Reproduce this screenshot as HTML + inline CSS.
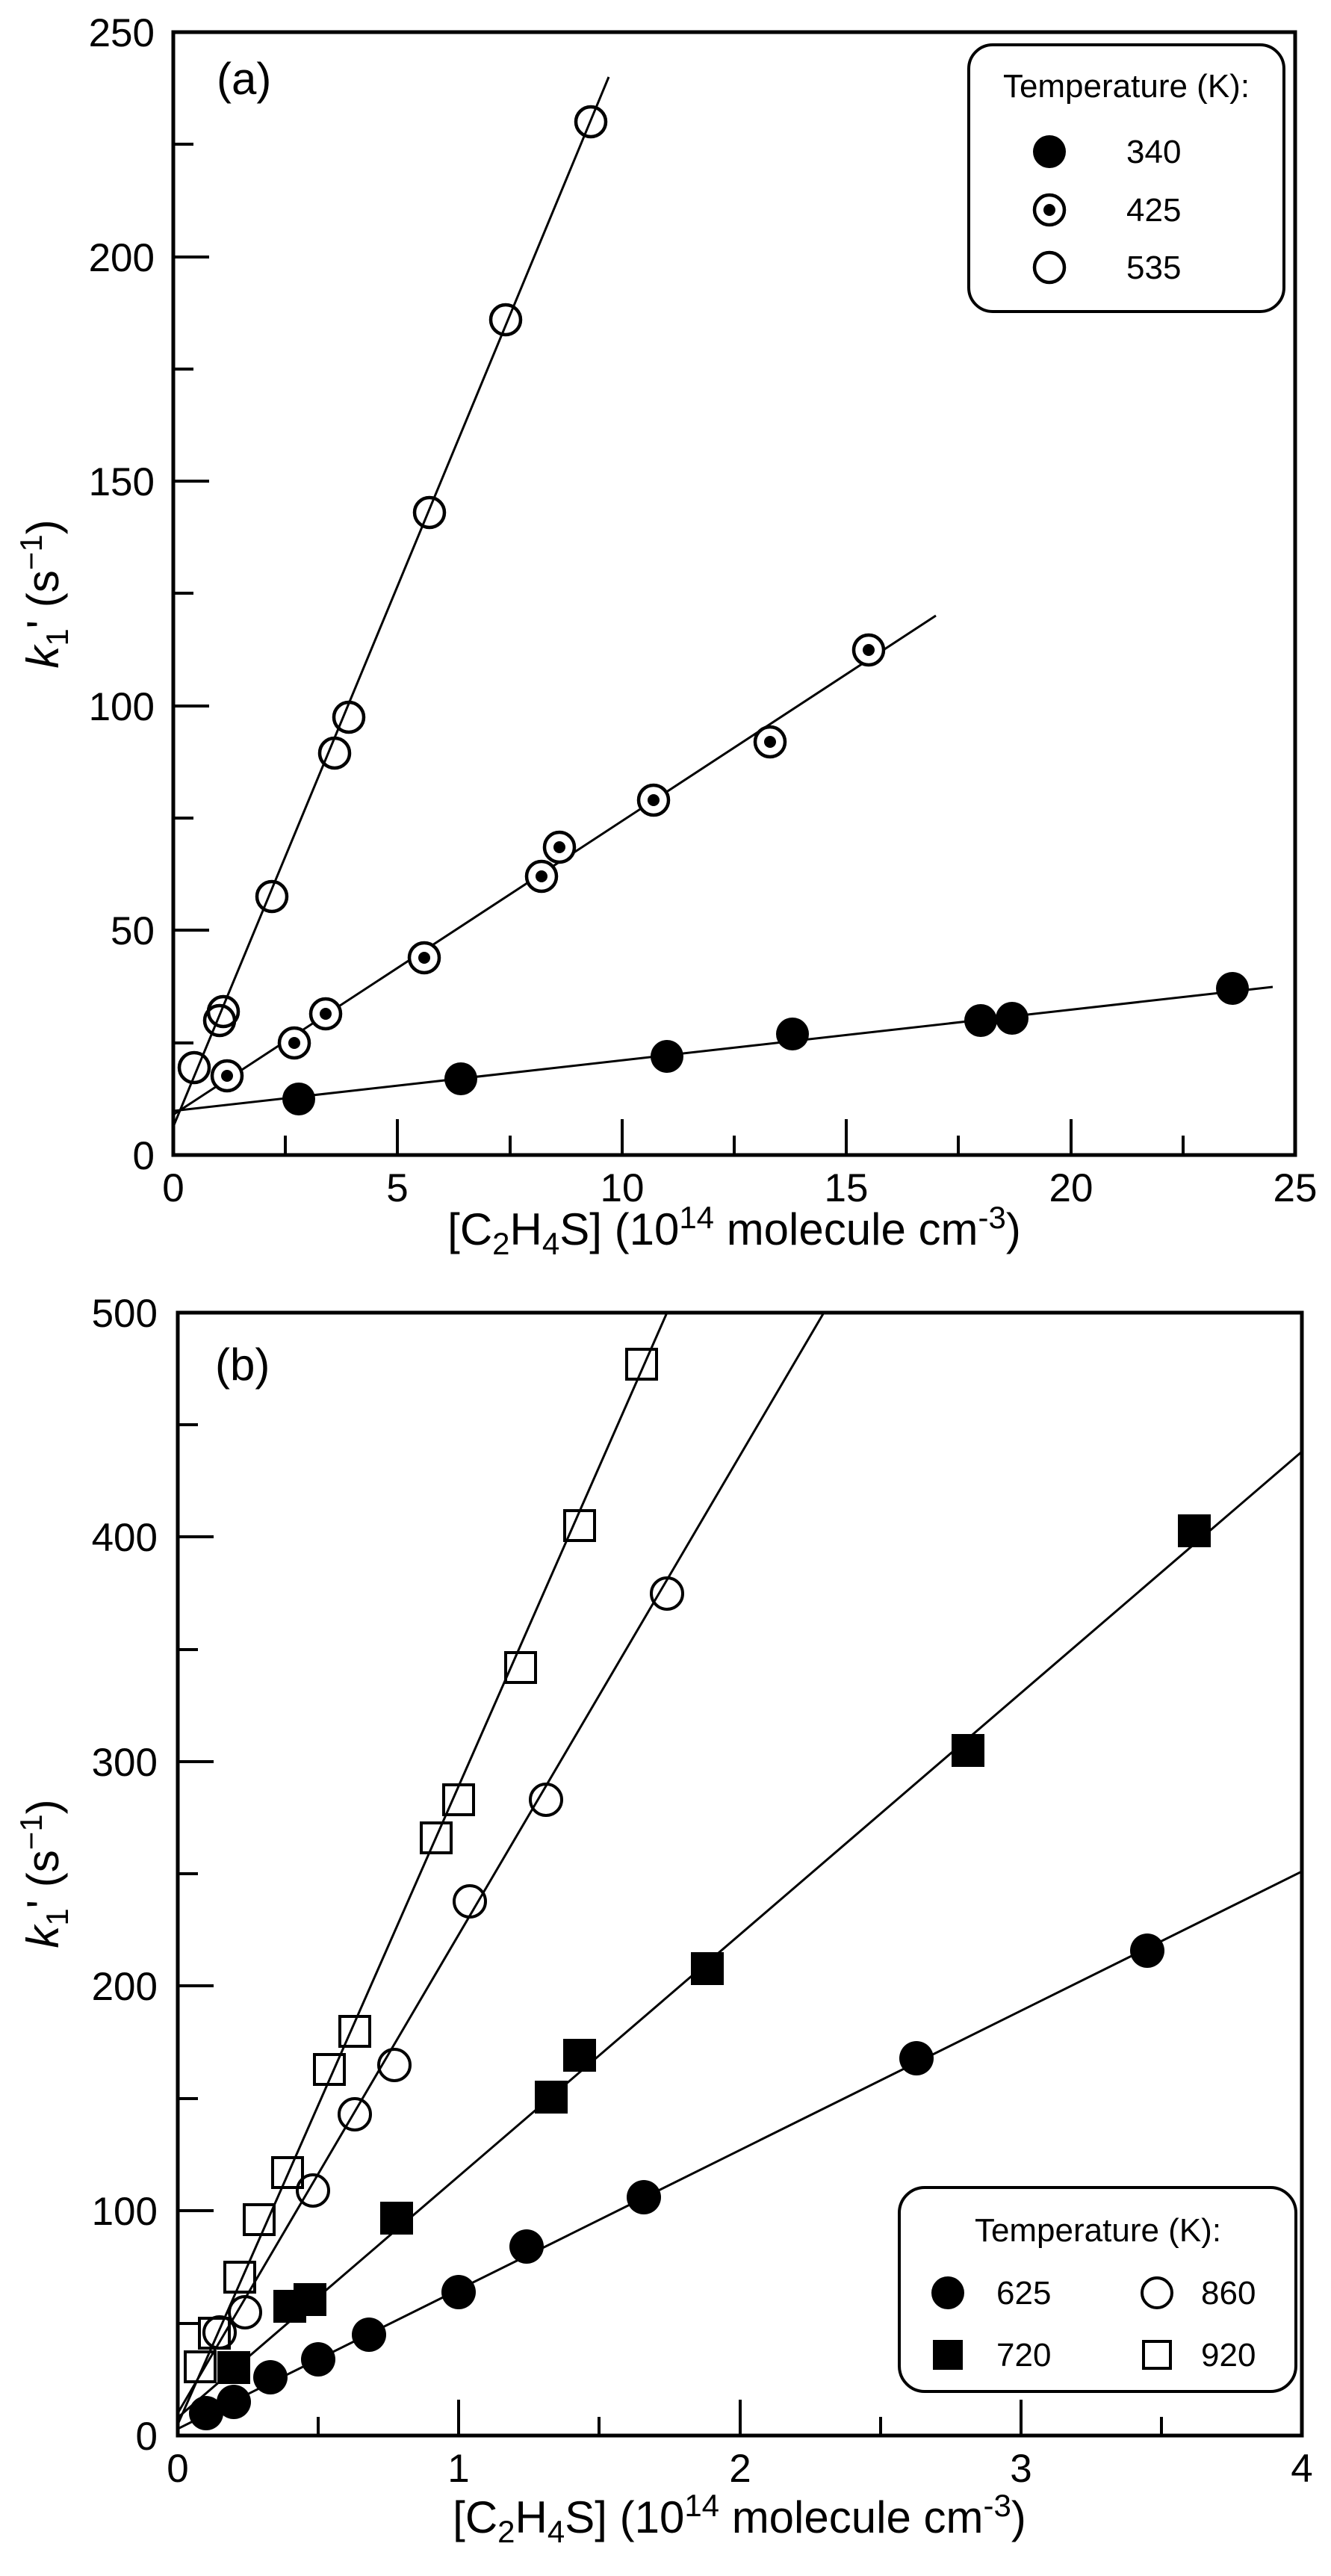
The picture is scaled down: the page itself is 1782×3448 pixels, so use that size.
<!DOCTYPE html>
<html><head><meta charset="utf-8"><style>
html,body{margin:0;padding:0;background:#fff;}
svg{display:block;}
text{font-family:"Liberation Sans",Arial,sans-serif;fill:#000;}
</style></head><body>
<svg xmlns="http://www.w3.org/2000/svg" width="1782" height="3448" viewBox="0 0 1782 3448">
<defs>
<clipPath id="ca"><rect x="232" y="43" width="1502" height="1503"/></clipPath>
<clipPath id="cb"><rect x="238" y="1757" width="1505" height="1503"/></clipPath>
</defs>
<rect width="1782" height="3448" fill="#fff"/>

<!-- ============ PANEL A ============ -->
<g stroke="#000" stroke-width="5" fill="none">
<rect x="232" y="43" width="1502" height="1503"/>
</g>
<g stroke="#000" stroke-width="4">
<line x1="232" y1="1546" x2="232" y2="1498"/>
<line x1="382" y1="1546" x2="382" y2="1520"/>
<line x1="532" y1="1546" x2="532" y2="1498"/>
<line x1="683" y1="1546" x2="683" y2="1520"/>
<line x1="833" y1="1546" x2="833" y2="1498"/>
<line x1="983" y1="1546" x2="983" y2="1520"/>
<line x1="1133" y1="1546" x2="1133" y2="1498"/>
<line x1="1283" y1="1546" x2="1283" y2="1520"/>
<line x1="1434" y1="1546" x2="1434" y2="1498"/>
<line x1="1584" y1="1546" x2="1584" y2="1520"/>
<line x1="232" y1="1245" x2="280" y2="1245"/>
<line x1="232" y1="1396" x2="259" y2="1396"/>
<line x1="232" y1="1095" x2="259" y2="1095"/>
<line x1="232" y1="945" x2="280" y2="945"/>
<line x1="232" y1="794" x2="259" y2="794"/>
<line x1="232" y1="644" x2="280" y2="644"/>
<line x1="232" y1="494" x2="259" y2="494"/>
<line x1="232" y1="344" x2="280" y2="344"/>
<line x1="232" y1="193" x2="259" y2="193"/>
</g>
<g font-size="53" text-anchor="end">
<text x="207" y="1565">0</text>
<text x="207" y="1264">50</text>
<text x="207" y="964">100</text>
<text x="207" y="663">150</text>
<text x="207" y="363">200</text>
<text x="207" y="62">250</text>
</g>
<g font-size="53" text-anchor="middle">
<text x="232" y="1608">0</text>
<text x="532" y="1608">5</text>
<text x="833" y="1608">10</text>
<text x="1133" y="1608">15</text>
<text x="1434" y="1608">20</text>
<text x="1734" y="1608">25</text>
</g>
<text x="983" y="1666" font-size="60" text-anchor="middle">[C<tspan font-size="42" dy="13">2</tspan><tspan dy="-13">H</tspan><tspan font-size="42" dy="13">4</tspan><tspan dy="-13">S] (10</tspan><tspan font-size="42" dy="-22">14</tspan><tspan dy="22"> molecule cm</tspan><tspan font-size="42" dy="-22">-3</tspan><tspan dy="22">)</tspan></text>
<text transform="translate(78,795) rotate(-90)" font-size="60" text-anchor="middle"><tspan font-style="italic">k</tspan><tspan font-size="42" dy="13">1</tspan><tspan dy="-13">' (s</tspan><tspan font-size="42" dy="-22">−1</tspan><tspan dy="22">)</tspan></text>
<text x="290" y="126" font-size="60">(a)</text>

<g clip-path="url(#ca)" stroke="#000" stroke-width="3" fill="none">
<line x1="232" y1="1487" x2="1704" y2="1321"/>
<line x1="232" y1="1492" x2="1253" y2="824"/>
<line x1="232" y1="1508" x2="815" y2="103"/>
</g>
<g fill="#000">
<circle cx="400" cy="1471" r="22"/>
<circle cx="617" cy="1444" r="22"/>
<circle cx="893" cy="1414" r="22"/>
<circle cx="1061" cy="1384" r="22"/>
<circle cx="1313" cy="1366" r="22"/>
<circle cx="1355" cy="1363" r="22"/>
<circle cx="1650" cy="1323" r="22"/>
</g>
<g stroke="#000" stroke-width="4.5" fill="#fff">
<circle cx="304" cy="1440" r="20"/>
<circle cx="394" cy="1396" r="20"/>
<circle cx="436" cy="1357" r="20"/>
<circle cx="568" cy="1282" r="20"/>
<circle cx="725" cy="1173" r="20"/>
<circle cx="749" cy="1134" r="20"/>
<circle cx="875" cy="1071" r="20"/>
<circle cx="1031" cy="993" r="20"/>
<circle cx="1163" cy="870" r="20"/>
</g>
<g fill="#000">
<circle cx="304" cy="1440" r="8"/>
<circle cx="394" cy="1396" r="8"/>
<circle cx="436" cy="1357" r="8"/>
<circle cx="568" cy="1282" r="8"/>
<circle cx="725" cy="1173" r="8"/>
<circle cx="749" cy="1134" r="8"/>
<circle cx="875" cy="1071" r="8"/>
<circle cx="1031" cy="993" r="8"/>
<circle cx="1163" cy="870" r="8"/>
</g>
<g stroke="#000" stroke-width="4.5" fill="none">
<circle cx="260" cy="1429" r="20"/>
<circle cx="294" cy="1366" r="20"/>
<circle cx="299" cy="1354" r="20"/>
<circle cx="364" cy="1200" r="20"/>
<circle cx="448" cy="1008" r="20"/>
<circle cx="467" cy="960" r="20"/>
<circle cx="575" cy="686" r="20"/>
<circle cx="677" cy="428" r="20"/>
<circle cx="791" cy="163" r="20"/>
</g>

<rect x="1297" y="60" width="422" height="357" rx="32" ry="32" fill="#fff" stroke="#000" stroke-width="4"/>
<text x="1508" y="130" font-size="44" text-anchor="middle">Temperature (K):</text>
<circle cx="1405" cy="203" r="22" fill="#000"/>
<circle cx="1405" cy="281" r="20" fill="#fff" stroke="#000" stroke-width="4.5"/>
<circle cx="1405" cy="281" r="8" fill="#000"/>
<circle cx="1405" cy="358" r="20" fill="none" stroke="#000" stroke-width="4.5"/>
<g font-size="44">
<text x="1508" y="218">340</text>
<text x="1508" y="296">425</text>
<text x="1508" y="373">535</text>
</g>

<!-- ============ PANEL B ============ -->
<g stroke="#000" stroke-width="5" fill="none">
<rect x="238" y="1757" width="1505" height="1503"/>
</g>
<g stroke="#000" stroke-width="4">
<line x1="426" y1="3260" x2="426" y2="3235"/>
<line x1="614" y1="3260" x2="614" y2="3212"/>
<line x1="802" y1="3260" x2="802" y2="3235"/>
<line x1="991" y1="3260" x2="991" y2="3212"/>
<line x1="1179" y1="3260" x2="1179" y2="3235"/>
<line x1="1367" y1="3260" x2="1367" y2="3212"/>
<line x1="1555" y1="3260" x2="1555" y2="3235"/>
<line x1="238" y1="3110" x2="265" y2="3110"/>
<line x1="238" y1="2959" x2="286" y2="2959"/>
<line x1="238" y1="2809" x2="265" y2="2809"/>
<line x1="238" y1="2658" x2="286" y2="2658"/>
<line x1="238" y1="2508" x2="265" y2="2508"/>
<line x1="238" y1="2358" x2="286" y2="2358"/>
<line x1="238" y1="2208" x2="265" y2="2208"/>
<line x1="238" y1="2057" x2="286" y2="2057"/>
<line x1="238" y1="1907" x2="265" y2="1907"/>
</g>
<g font-size="53" text-anchor="end">
<text x="211" y="3279">0</text>
<text x="211" y="2978">100</text>
<text x="211" y="2677">200</text>
<text x="211" y="2377">300</text>
<text x="211" y="2076">400</text>
<text x="211" y="1776">500</text>
</g>
<g font-size="53" text-anchor="middle">
<text x="238" y="3322">0</text>
<text x="614" y="3322">1</text>
<text x="991" y="3322">2</text>
<text x="1367" y="3322">3</text>
<text x="1743" y="3322">4</text>
</g>
<text x="990" y="3390" font-size="60" text-anchor="middle">[C<tspan font-size="42" dy="13">2</tspan><tspan dy="-13">H</tspan><tspan font-size="42" dy="13">4</tspan><tspan dy="-13">S] (10</tspan><tspan font-size="42" dy="-22">14</tspan><tspan dy="22"> molecule cm</tspan><tspan font-size="42" dy="-22">-3</tspan><tspan dy="22">)</tspan></text>
<text transform="translate(78,2508) rotate(-90)" font-size="60" text-anchor="middle"><tspan font-style="italic">k</tspan><tspan font-size="42" dy="13">1</tspan><tspan dy="-13">' (s</tspan><tspan font-size="42" dy="-22">−1</tspan><tspan dy="22">)</tspan></text>
<text x="288" y="1847" font-size="60">(b)</text>

<g clip-path="url(#cb)" stroke="#000" stroke-width="3" fill="none">
<line x1="238" y1="3251" x2="1743" y2="2505"/>
<line x1="238" y1="3236" x2="1743" y2="1943"/>
<line x1="238" y1="3230" x2="1103" y2="1757"/>
<line x1="238" y1="3245" x2="893" y2="1757"/>
</g>
<g stroke="#000" stroke-width="4" fill="none">
<rect x="248" y="3148" width="40" height="40"/>
<rect x="267" y="3103" width="40" height="40"/>
<rect x="301" y="3028" width="40" height="40"/>
<rect x="327" y="2951" width="40" height="40"/>
<rect x="365" y="2888" width="40" height="40"/>
<rect x="421" y="2750" width="40" height="40"/>
<rect x="455" y="2699" width="40" height="40"/>
<rect x="564" y="2440" width="40" height="40"/>
<rect x="594" y="2389" width="40" height="40"/>
<rect x="677" y="2212" width="40" height="40"/>
<rect x="756" y="2022" width="40" height="40"/>
<rect x="839" y="1806" width="40" height="40"/>
</g>
<g stroke="#000" stroke-width="4" fill="none">
<circle cx="294" cy="3122" r="21"/>
<circle cx="328" cy="3095" r="21"/>
<circle cx="419" cy="2932" r="21"/>
<circle cx="475" cy="2830" r="21"/>
<circle cx="528" cy="2764" r="21"/>
<circle cx="629" cy="2545" r="21"/>
<circle cx="731" cy="2409" r="21"/>
<circle cx="893" cy="2133" r="21"/>
</g>
<g fill="#000">
<rect x="291" y="3147" width="44" height="44"/>
<rect x="366" y="3065" width="44" height="44"/>
<rect x="393" y="3056" width="44" height="44"/>
<rect x="509" y="2947" width="44" height="44"/>
<rect x="716" y="2785" width="44" height="44"/>
<rect x="754" y="2729" width="44" height="44"/>
<rect x="925" y="2613" width="44" height="44"/>
<rect x="1274" y="2321" width="44" height="44"/>
<rect x="1577" y="2027" width="44" height="44"/>
</g>
<g fill="#000">
<circle cx="276" cy="3230" r="23"/>
<circle cx="313" cy="3215" r="23"/>
<circle cx="362" cy="3182" r="23"/>
<circle cx="426" cy="3158" r="23"/>
<circle cx="494" cy="3125" r="23"/>
<circle cx="614" cy="3068" r="23"/>
<circle cx="705" cy="3007" r="23"/>
<circle cx="862" cy="2941" r="23"/>
<circle cx="1227" cy="2755" r="23"/>
<circle cx="1536" cy="2611" r="23"/>
</g>

<rect x="1204" y="2928" width="531" height="273" rx="34" ry="34" fill="#fff" stroke="#000" stroke-width="4"/>
<text x="1470" y="3000" font-size="44" text-anchor="middle">Temperature (K):</text>
<circle cx="1269" cy="3069" r="22" fill="#000"/>
<rect x="1249" y="3132" width="40" height="40" fill="#000"/>
<circle cx="1549" cy="3069" r="20" fill="none" stroke="#000" stroke-width="4"/>
<rect x="1531" y="3134" width="36" height="36" fill="none" stroke="#000" stroke-width="4"/>
<g font-size="44">
<text x="1334" y="3084">625</text>
<text x="1334" y="3167">720</text>
<text x="1608" y="3084">860</text>
<text x="1608" y="3167">920</text>
</g>
</svg>
</body></html>
